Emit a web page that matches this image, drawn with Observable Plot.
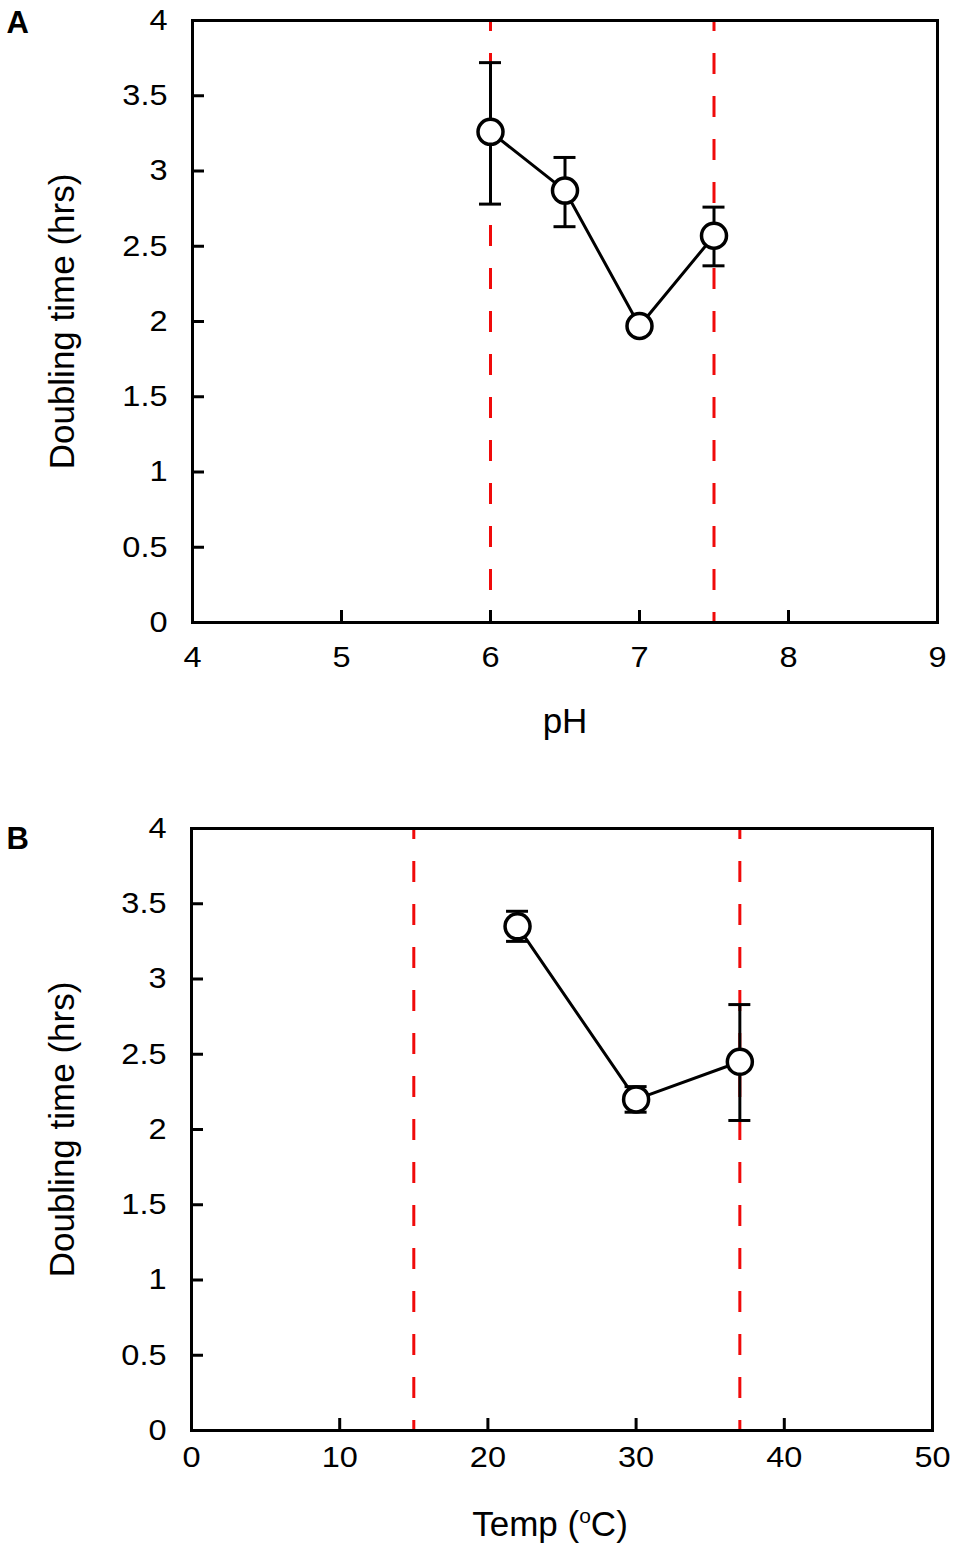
<!DOCTYPE html>
<html><head><meta charset="utf-8">
<script src="https://cdn.jsdelivr.net/npm/d3@7"></script>
<script src="https://cdn.jsdelivr.net/npm/@observablehq/plot@0.6"></script>
<style>
html,body{margin:0;padding:0;background:#fff;}
#chart svg{display:block;}
</style></head><body><div id="chart"></div>
<script>
// Panel A: pH
const pH = [6, 6.5, 7, 7.5];
const pHTime = [3.26, 2.87, 1.97, 2.57];
const pHLow = [2.78, 2.63, 1.93, 2.37];
const pHHigh = [3.72, 3.09, 2.01, 2.76];
const pHLimits = [6, 7.5];
const pHTicks = [4, 5, 6, 7, 8, 9];
const pHDomain = [4, 9];
const pHTitle = "pH";

// Panel B: temperature
const temp = [22, 30, 37];
const tempTime = [3.35, 2.20, 2.45];
const tempLow = [3.25, 2.115, 2.06];
const tempHigh = [3.45, 2.285, 2.83];
const tempLimits = [15, 37];
const tempTicks = [0, 10, 20, 30, 40, 50];
const tempDomain = [0, 50];
const tempTitle = "Temp (oC)";

// Shared y axis
const yTicks = [0, 0.5, 1, 1.5, 2, 2.5, 3, 3.5, 4];
const yDomain = [0, 4];
const yTitle = "Doubling time (hrs)";

function panel(c) {
  const data = c.xs.map((x, i) => ({x, y: c.ys[i], lo: c.lo[i], hi: c.hi[i]}));
  return Plot.plot({
    width: 955, height: c.height,
    marginTop: c.marginTop, marginBottom: c.marginBottom,
    marginLeft: c.marginLeft, marginRight: c.marginRight,
    style: {fontFamily: "'Liberation Sans', Arial, sans-serif", fontSize: "29px", background: "white", overflow: "visible", color: "black"},
    x: {domain: c.xDomain},
    y: {domain: yDomain},
    marks: [
      Plot.ruleX(c.limits, {x: d => d, y1: () => yDomain[0], y2: () => yDomain[1], stroke: "#f00a0a", strokeWidth: 3, strokeDasharray: "21,22", strokeDashoffset: 11}),
      Plot.ruleX(data, {x: "x", y1: "lo", y2: "hi", stroke: "black", strokeWidth: 3}),
      Plot.ruleY(data, {y: "lo", x1: "x", x2: "x", insetLeft: -11, insetRight: -11, stroke: "black", strokeWidth: 3}),
      Plot.ruleY(data, {y: "hi", x1: "x", x2: "x", insetLeft: -11, insetRight: -11, stroke: "black", strokeWidth: 3}),
      Plot.line(data, {x: "x", y: "y", stroke: "black", strokeWidth: 3}),
      Plot.dot(data, {x: "x", y: "y", r: 12.5, fill: "white", stroke: "black", strokeWidth: 3.5}),
      Plot.frame({stroke: "black", strokeWidth: 3}),
      Plot.axisX({ticks: c.xTicks, tickSize: -12, tickPadding: 12 + c.xTickPad, strokeWidth: 3, label: null, tickFormat: d => String(d)}),
      Plot.axisY({ticks: yTicks, tickSize: -12, tickPadding: 37, strokeWidth: 3, label: null, tickFormat: d => String(d)}),
      Plot.text([c.xTitle], {frameAnchor: "bottom", text: d => d, dy: c.xTitleDy, dx: c.xTitleDx, lineAnchor: "middle", fontSize: 35}),
      Plot.text([yTitle], {frameAnchor: "left", text: d => d, rotate: -90, dx: 62.5 - c.marginLeft, textAnchor: "middle", lineAnchor: "middle", fontSize: 35}),
      Plot.text([c.letter], {frameAnchor: "top-left", text: d => d, dx: 6 - c.marginLeft, dy: c.letterDy, textAnchor: "start", lineAnchor: "top", fontSize: 31, fontWeight: "bold"})
    ]
  });
}

const chart = document.getElementById("chart");
chart.append(panel({
  xs: pH, ys: pHTime, lo: pHLow, hi: pHHigh, limits: pHLimits,
  xTicks: pHTicks, xDomain: pHDomain, xTitle: pHTitle, letter: "A",
  height: 775, marginTop: 20, marginBottom: 153, marginLeft: 192, marginRight: 18,
  xTickPad: 24, xTitleDy: 99, xTitleDx: 0, letterDy: -10
}));
chart.append(panel({
  xs: temp, ys: tempTime, lo: tempLow, hi: tempHigh, limits: tempLimits,
  xTicks: tempTicks, xDomain: tempDomain, xTitle: tempTitle, letter: "B",
  height: 776, marginTop: 53, marginBottom: 121, marginLeft: 191, marginRight: 23,
  xTickPad: 16, xTitleDy: 94, xTitleDx: -12, letterDy: -2
}));

// superscript "o" in the temperature title
chart.querySelectorAll("text").forEach(t => {
  if (t.textContent === tempTitle) {
    t.innerHTML = 'Temp (<tspan font-size="21" dy="-13">o</tspan><tspan dy="13">C)</tspan>';
  }
});
// widen tick labels as in the reference
chart.querySelectorAll('g[aria-label="x-axis tick label"] text, g[aria-label="y-axis tick label"] text').forEach(t => {
  const w = t.getComputedTextLength();
  t.setAttribute("textLength", (w * 1.12).toFixed(1));
  t.setAttribute("lengthAdjust", "spacingAndGlyphs");
});
</script>
</body></html>
